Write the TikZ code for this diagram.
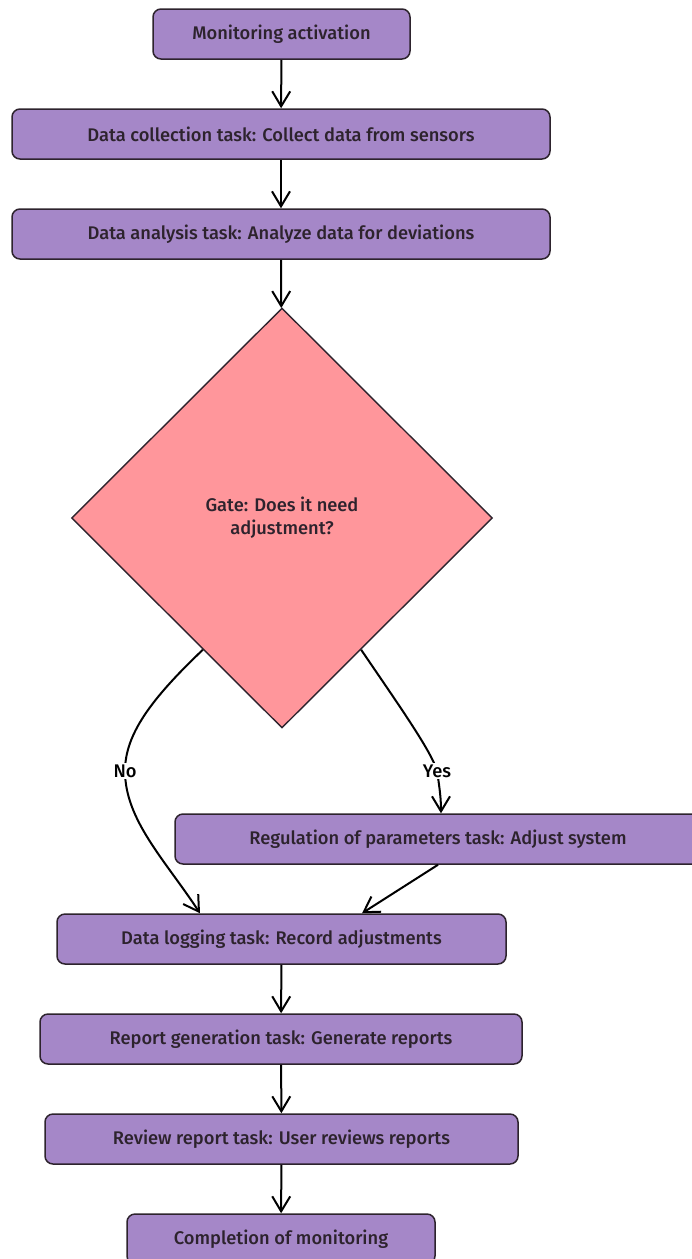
\documentclass[tikz,border=0pt]{standalone}
\usepackage{fontspec}
\setmainfont{Fira Sans}
\newfontfamily\flowfont{Fira Sans Medium}
\usetikzlibrary{shapes.geometric,arrows.meta}
\definecolor{taskPurple}{RGB}{165,135,200}
\definecolor{gatePink}{RGB}{255,150,155}
\definecolor{inkDark}{RGB}{45,35,45}

\begin{document}
\begin{tikzpicture}[x=1pt,y=-1pt,
  task/.style={rectangle,rounded corners=8pt,draw=inkDark,fill=taskPurple,line width=1.5pt,minimum height=50pt,inner sep=0pt,font=\flowfont\fontsize{18.3}{21}\selectfont,text=inkDark},
  gate/.style={diamond,draw=inkDark,fill=gatePink,line width=1.4pt,minimum width=421pt,minimum height=420pt,inner sep=0pt,align=center,font=\flowfont\fontsize{18.3}{23}\selectfont,text=inkDark},
  flow/.style={line width=2pt,-{Straight Barb[length=15pt,width=18pt]}},
  lbl/.style={fill=white,inner sep=1.5pt,font=\flowfont\fontsize{18.3}{21}\selectfont}]
\useasboundingbox (0,0) rectangle (692,1259);
\clip (0,0) rectangle (692,1259);
\node[task,minimum width=257pt] (start) at (281.5,34) {Monitoring activation};
\node[task,minimum width=538pt] (collect) at (281,134) {Data collection task: Collect data from sensors};
\node[task,minimum width=538pt] (analyze) at (281,234) {Data analysis task: Analyze data for deviations};
\node[gate] (gate) at (282,518) {Gate: Does it need\\adjustment?};
\node[task,minimum width=526pt] (regulate) at (438,839) {Regulation of parameters task: Adjust system};
\node[task,minimum width=449pt] (logging) at (281.5,939) {Data logging task: Record adjustments};
\node[task,minimum width=482pt] (report) at (281,1039) {Report generation task: Generate reports};
\node[task,minimum width=473pt] (review) at (281.5,1139) {Review report task: User reviews reports};
\node[task,minimum width=308pt] (finish) at (281,1239) {Completion of monitoring};
% straight flow
\draw[flow] (start) -- (collect);
\draw[flow] (collect) -- (analyze);
\draw[flow] (analyze) -- (gate);
\draw[flow] (logging) -- (report);
\draw[flow] (report) -- (review);
\draw[flow] (review) -- (finish);
% decision branches
\draw[flow] (gate.239) .. controls (150,700) and (125,735) .. (125,771) node[lbl] {No}
  .. controls (125,820) and (165,860) .. ([xshift=-81.5pt]logging.north);
\draw[flow] (gate.301) .. controls (398,704) and (432,752) .. (437,771) node[lbl] {Yes}
  .. controls (440,790) and (441,800) .. ([xshift=3pt]regulate.north);
\draw[flow] (regulate.south) -- ([xshift=80.5pt]logging.north);
\end{tikzpicture}
\end{document}
